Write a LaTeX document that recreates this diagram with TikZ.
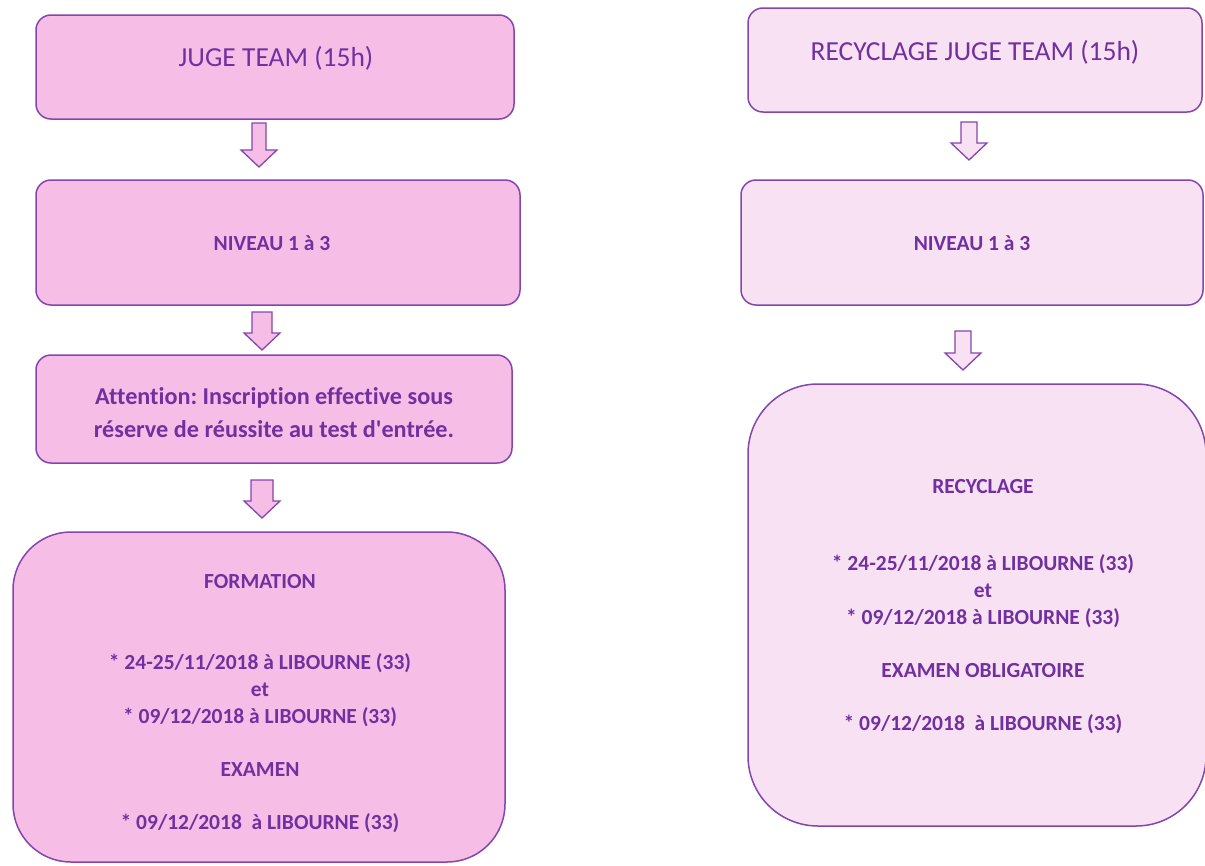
\documentclass[tikz,border=0pt]{standalone}
\usepackage{fontspec}
\setmainfont{Carlito}[Ligatures=NoCommon]
\frenchspacing
\definecolor{boxline}{HTML}{8445AE}
\definecolor{boxtext}{HTML}{7030A0}
\definecolor{pinkfill}{HTML}{F6BEE6}
\definecolor{palefill}{HTML}{F9E1F4}
\tikzset{
	stage/.style={draw=boxline, line width=1.5pt, rounded corners=15pt, inner sep=0pt},
	% block arrow pointing down: {length}{half shaft width}{fill}
	pics/downarrow/.style n args={3}{code={
		\draw[draw=boxline, line width=1.3pt, fill=#3, line join=miter]
			(-#2,0) -- (#2,0) -- (#2,#1-17) -- (18,#1-17) -- (0,#1) -- (-18,#1-17) -- (-#2,#1-17) -- cycle;
	}},
	title/.style={text=boxtext, font=\fontsize{27.5}{32}\selectfont},
	info/.style={text=boxtext, font=\bfseries\fontsize{21.5}{27}\selectfont, align=center}
}

\begin{document}
\begin{tikzpicture}[x=1pt, y=-1pt]
		%%%%% START %%%%%
		\useasboundingbox (0,0) rectangle (1205,865);
		
		% left column
		\node[stage, fill=pinkfill, minimum width=478pt, minimum height=104pt] (jt) at (275,67) {};
		\node[title] (jtt) at (276,58) {JUGE TEAM (15h)};
		\pic (a1) at (259,123) {downarrow={44}{7}{pinkfill}};
		
		\node[stage, fill=pinkfill, minimum width=484pt, minimum height=125pt] (niv) at (278,242.5) {};
		\node[info] (nivt) at (272,243) {NIVEAU 1 à 3};
		\pic (a2) at (262,312) {downarrow={38}{10}{pinkfill}};
		
		\node[stage, fill=pinkfill, minimum width=476pt, minimum height=108pt] (att) at (274,409) {};
		\node[info, font=\bfseries\fontsize{24.2}{33}\selectfont] (attt) at (274,413) {Attention: Inscription effective sous\\réserve de réussite au test d\textquotesingle entrée.};
		\pic (a3) at (262,480) {downarrow={38}{11}{pinkfill}};
		
		\node[stage, fill=pinkfill, rounded corners=58pt, minimum width=492pt, minimum height=330pt] (form) at (259,697) {};
		\node[info] (formt) at (260,582) {FORMATION};
		\node[info] (formd) at (260,690) {* 24-25/11/2018 à LIBOURNE (33)\\et\\* 09/12/2018 à LIBOURNE (33)};
		\node[info] (forme) at (260,770) {EXAMEN};
		\node[info] (formx) at (260,823) {* 09/12/2018~~à LIBOURNE (33)};
		
		% right column
		\node[stage, fill=palefill, minimum width=454pt, minimum height=104pt] (rjt) at (975,60) {};
		\node[title] (rjtt) at (975,52) {RECYCLAGE JUGE TEAM (15h)};
		\pic (b1) at (969,122) {downarrow={38}{8}{palefill}};
		
		\node[stage, fill=palefill, minimum width=462pt, minimum height=125pt] (rniv) at (972,242.5) {};
		\node[info] (rnivt) at (972,243) {NIVEAU 1 à 3};
		\pic (b2) at (963,331) {downarrow={39}{8}{palefill}};
		
		\node[stage, fill=palefill, rounded corners=70pt, minimum width=458pt, minimum height=442pt] (rec) at (977,605) {};
		\node[info] (rect) at (983,487) {RECYCLAGE};
		\node[info] (recd) at (983,591) {* 24-25/11/2018 à LIBOURNE (33)\\et\\* 09/12/2018 à LIBOURNE (33)};
		\node[info] (rece) at (983,671) {EXAMEN OBLIGATOIRE};
		\node[info] (recx) at (983,724) {* 09/12/2018~~à LIBOURNE (33)};
		
		%%%%% END %%%%%
	\end{tikzpicture}
\end{document}
